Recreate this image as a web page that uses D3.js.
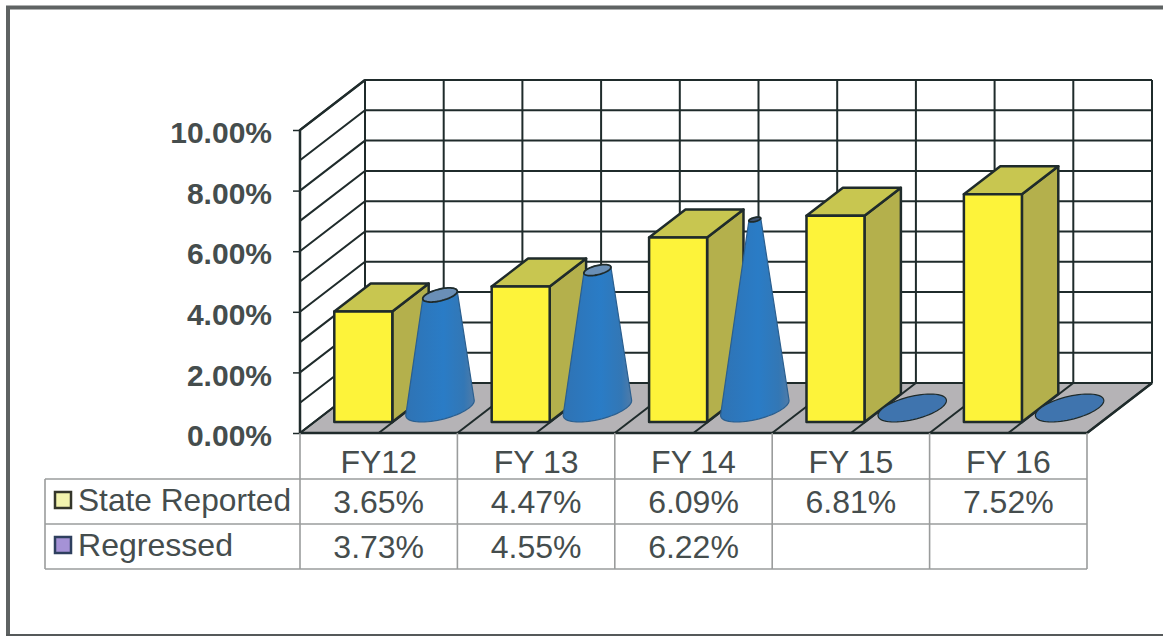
<!DOCTYPE html>
<html><head><meta charset="utf-8">
<script src="https://cdn.jsdelivr.net/npm/d3@7"></script>
<style>html,body{margin:0;padding:0;background:#fff}svg{display:block}text{font-family:"Liberation Sans",Arial,sans-serif}</style>
</head><body><svg id="c" width="1163" height="636"></svg>
<script>
const categories=["FY12","FY 13","FY 14","FY 15","FY 16"];
const stateReported=[3.65,4.47,6.09,6.81,7.52];
const regressed=[3.73,4.55,6.22,0,0];
const regressedLabels=["3.73%","4.55%","6.22%","",""];
const stateLabels=["3.65%","4.47%","6.09%","6.81%","7.52%"];
const yTicks=[0,2,4,6,8,10];
const seriesNames=["State Reported","Regressed"];

const svg=d3.select("#c");
const ink="#1f2b2b", txt="#454d4d", tableLine="#9a9c9c";
const x=d3.scaleBand().domain(categories).range([300,1087]);
const y=d3.scaleLinear().domain([0,10]).range([433,130]);
const halfSteps=d3.range(0,10.5,1);
const xHalf=d3.scaleLinear().domain([0,10]).range([300,1087]);
const depth=d3.scaleLinear().domain([0,1]).range([0,1]);
const depthX=65, depthY=-50;
// oblique projection: front-plane position (px), value, depth fraction
const P=(px,v,d)=>[px+depth(d)*depthX, y(v)+depth(d)*depthY];
const line=d3.line();
const closed=pts=>line(pts)+"Z";

// frame
svg.append("path").attr("d","M8,636V7.5H1163").attr("fill","none").attr("stroke","#5f6363").attr("stroke-width",4);
svg.append("path").attr("d","M6,635H1163").attr("fill","none").attr("stroke","#55595a").attr("stroke-width",2);

// floor
svg.append("path").attr("d",closed([P(300,0,0),P(1087,0,0),P(1087,0,1),P(300,0,1)])).attr("fill","#b5b3b6").attr("stroke","none");

const lines=svg.append("g").attr("fill","none").attr("stroke",ink).attr("stroke-width",2);
// back wall + left wall grid
d3.range(0,11).forEach(v=>{
  lines.append("path").attr("d",line([P(300,v,0),P(300,v,1),P(1087,v,1)]));
});
halfSteps.forEach(i=>{
  lines.append("path").attr("d",line([P(xHalf(i),0,1),P(xHalf(i),10,1)]));
  lines.append("path").attr("d",line([P(xHalf(i),0,0),P(xHalf(i),0,1)]));
});
lines.append("path").attr("d",line([P(300,0,0),P(300,10,0),P(300,10,1)])).attr("stroke-width",2.5);
lines.append("path").attr("d",line([P(300,0,0),P(1087,0,0),P(1087,0,1)])).attr("stroke-width",2.5);

// y axis
const axisG=svg.append("g").attr("transform","translate(300,0)")
  .call(d3.axisLeft(y).tickValues(yTicks).tickFormat(d=>d3.format(".2f")(d)+"%").tickSize(7).tickPadding(21));
axisG.select(".domain").remove();
axisG.selectAll("line").attr("stroke",ink).attr("stroke-width",1.5);
axisG.selectAll("text").attr("font-size",30).attr("font-weight","bold").attr("fill",txt).attr("dy","0.42em").attr("font-family",'"Liberation Sans",Arial,sans-serif');

// marks
const defs=svg.append("defs");
const grad=defs.append("linearGradient").attr("id","cone").attr("x1",0).attr("x2",1).attr("y1",0).attr("y2",0);
[[0,"#2f73b4"],[.55,"#2a7cc6"],[.85,"#3377b5"],[1,"#4f7ba8"]].forEach(s=>grad.append("stop").attr("offset",s[0]).attr("stop-color",s[1]));

const barFrac=0.127, barWidth=58, d0=0.22, d1=0.78;
const coneMax=d3.max(stateReported);
const coneFrac=0.683, coneRx=29, coneDepth=0.28;
function ellipse(cx,v,scale){
  return d3.range(0,64).map(i=>{
    const t=i/64*2*Math.PI;
    return P(cx+coneRx*scale*Math.cos(t),v,0.5+coneDepth*scale*Math.sin(t));
  });
}
categories.forEach((c,i)=>{
  const bw=x.bandwidth(), xl=x(c)+bw*barFrac, xr=xl+barWidth;
  const v=stateReported[i];
  const g=svg.append("g").attr("stroke",ink).attr("stroke-width",2.5).attr("stroke-linejoin","round");
  g.append("path").attr("d",closed([P(xr,0,d0),P(xr,0,d1),P(xr,v,d1),P(xr,v,d0)])).attr("fill","#b4b04c");
  g.append("path").attr("d",closed([P(xl,v,d0),P(xr,v,d0),P(xr,v,d1),P(xl,v,d1)])).attr("fill","#c8c650");
  g.append("path").attr("d",closed([P(xl,0,d0),P(xr,0,d0),P(xr,v,d0),P(xl,v,d0)])).attr("fill","#fdf33a");
  const cx=x(c)+bw*coneFrac, r=regressed[i];
  const cg=svg.append("g").attr("stroke",ink).attr("stroke-width",1.2);
  const base=ellipse(cx,0,1);
  if(r>0){
    const top=ellipse(cx,r,1-r/coneMax);
    cg.append("path").attr("d",closed(d3.polygonHull(base.concat(top)))).attr("fill","url(#cone)").attr("stroke","#2b5f8f");
    cg.append("path").attr("d",closed(top)).attr("fill",r>6?"#3d5270":"#6a8fb6").attr("stroke-width",1.8);
  } else {
    cg.append("path").attr("d",closed(base)).attr("fill","#3f74ae");
  }
});

// data table
const rows=[433,479,524,569];
const tl=svg.append("g").attr("stroke",tableLine).attr("stroke-width",1.6).attr("fill","none");
rows.slice(1).forEach(r=>tl.append("line").attr("x1",45).attr("x2",1087).attr("y1",r).attr("y2",r));
tl.append("line").attr("x1",45).attr("x2",45).attr("y1",479).attr("y2",569);
categories.forEach(c=>tl.append("line").attr("x1",x(c)).attr("x2",x(c)).attr("y1",433).attr("y2",569));
tl.append("line").attr("x1",1087).attr("x2",1087).attr("y1",433).attr("y2",569);

const tt=svg.append("g").attr("font-size",32).attr("fill",txt);
const cell=(row,arr)=>arr.forEach((s,i)=>tt.append("text").attr("x",x(categories[i])+x.bandwidth()/2).attr("y",rows[row]+(row?34:40)).attr("text-anchor","middle").text(s));
cell(0,categories);cell(1,stateLabels);cell(2,regressedLabels);
seriesNames.forEach((s,i)=>tt.append("text").attr("x",78).attr("y",rows[i+1]+32).attr("textLength",i?155:213).attr("lengthAdjust","spacingAndGlyphs").text(s));
svg.append("rect").attr("x",55).attr("y",492).attr("width",16).attr("height",16).attr("fill","#f3f4ae").attr("stroke","#34362a").attr("stroke-width",2.5);
svg.append("rect").attr("x",55).attr("y",537).attr("width",16).attr("height",16).attr("fill","#a592d6").attr("stroke","#2e3f5e").attr("stroke-width",2.5);
</script></body></html>
